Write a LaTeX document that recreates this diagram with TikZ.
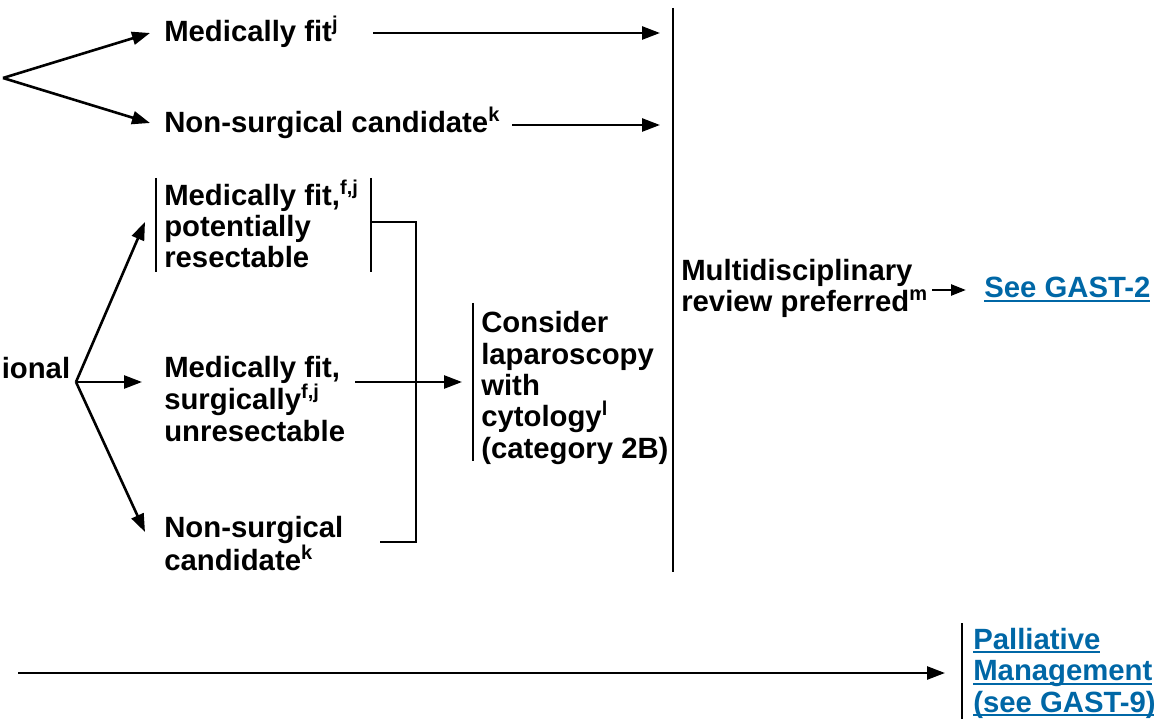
\documentclass[tikz,border=0pt]{standalone}
\usepackage{fontspec}
\setmainfont{Liberation Sans}
\usetikzlibrary{arrows.meta}
\definecolor{linkblue}{RGB}{0,103,166}
\newcommand\sps[1]{\raisebox{11pt}{\fontsize{20}{20}\selectfont #1}}
\newcommand\lnk[1]{\setbox0\hbox{#1}\rlap{\rule[-4pt]{\wd0}{2.2pt}}\box0}
\begin{document}
\begin{tikzpicture}[x=1pt,y=-1pt, line width=2.6pt,
  txt/.style={anchor=base west, inner sep=0pt, align=left, font=\fontsize{29.3}{31.3}\selectfont\bfseries},
  link/.style={txt, text=linkblue},
  arr/.style={-{Triangle[length=18pt,width=13pt]}},
  sarr/.style={-{Triangle[length=15pt,width=11pt]}},
  bar/.style={line width=2.6pt}]
\useasboundingbox (0,0) rectangle (1154,719);

% text nodes (anchored at the baseline of their last line)
\node[txt] (A) at (163,42) {Medically fit\sps{j}};
\node[txt] (B) at (163,133) {Non-surgical candidate\sps{k}};
\node[txt] (C) at (163,268) {Medically fit,\sps{f,j}\\potentially\\resectable};
\node[txt, anchor=base west] (D) at (0.5,378) {ional};
\node[txt] (E) at (163,441) {Medically fit,\\surgically\sps{f,j}\\unresectable};
\node[txt] (F) at (163,570) {Non-surgical\\candidate\sps{k}};
\node[txt] (G) at (480,458) {Consider\\laparoscopy\\with\\cytology\sps{l}\\(category 2B)};
\node[txt] (H) at (680,312) {Multidisciplinary\\review preferred\sps{m}};
\node[link] (I) at (983,298) {\lnk{See GAST-2}};
\node[link] (J) at (972,712) {\lnk{Palliative}\\\lnk{Management}\\\lnk{(see GAST-9)}};

% coordinates
\coordinate (ap1) at (3,78);
\coordinate (tA) at (150,33);
\coordinate (tB) at (150,123);
\coordinate (sA) at (373,33);
\coordinate (eA) at (660,33);
\coordinate (sB) at (512,125);
\coordinate (eB) at (660,125);
\coordinate (vt) at (673,8);
\coordinate (vb) at (673,572);
\coordinate (ap2) at (76,382);
\coordinate (tC) at (145,222);
\coordinate (tE) at (142,382);
\coordinate (tF) at (145,532);
\coordinate (sE) at (355,382);
\coordinate (tG) at (462,382);
\coordinate (brR) at (371,222);
\coordinate (brX) at (416,542);
\coordinate (brF) at (380,542);
\coordinate (sH) at (932,290);
\coordinate (tI) at (966,290);
\coordinate (sP) at (18,673);
\coordinate (tJ) at (945,673);

% bars
\draw[bar] (156,178) -- (156,272);
\draw[bar] (371,178) -- (371,272);
\draw[bar] (473,303) -- (473,461);
\draw[bar] (962,623) -- (962,719);
\draw[bar] (vt) -- (vb);

% connectors
\draw[arr] (ap1) -- (tA);
\draw[arr] (ap1) -- (tB);
\draw[arr] (sA) -- (eA);
\draw[arr] (sB) -- (eB);
\draw[arr] (ap2) -- (tC);
\draw[arr] (ap2) -- (tE);
\draw[arr] (ap2) -- (tF);
\draw (brR) -| (brX) -- (brF);
\draw[arr] (sE) -- (tG);
\draw[sarr] (sH) -- (tI);
\draw[arr] (sP) -- (tJ);
\end{tikzpicture}
\end{document}
